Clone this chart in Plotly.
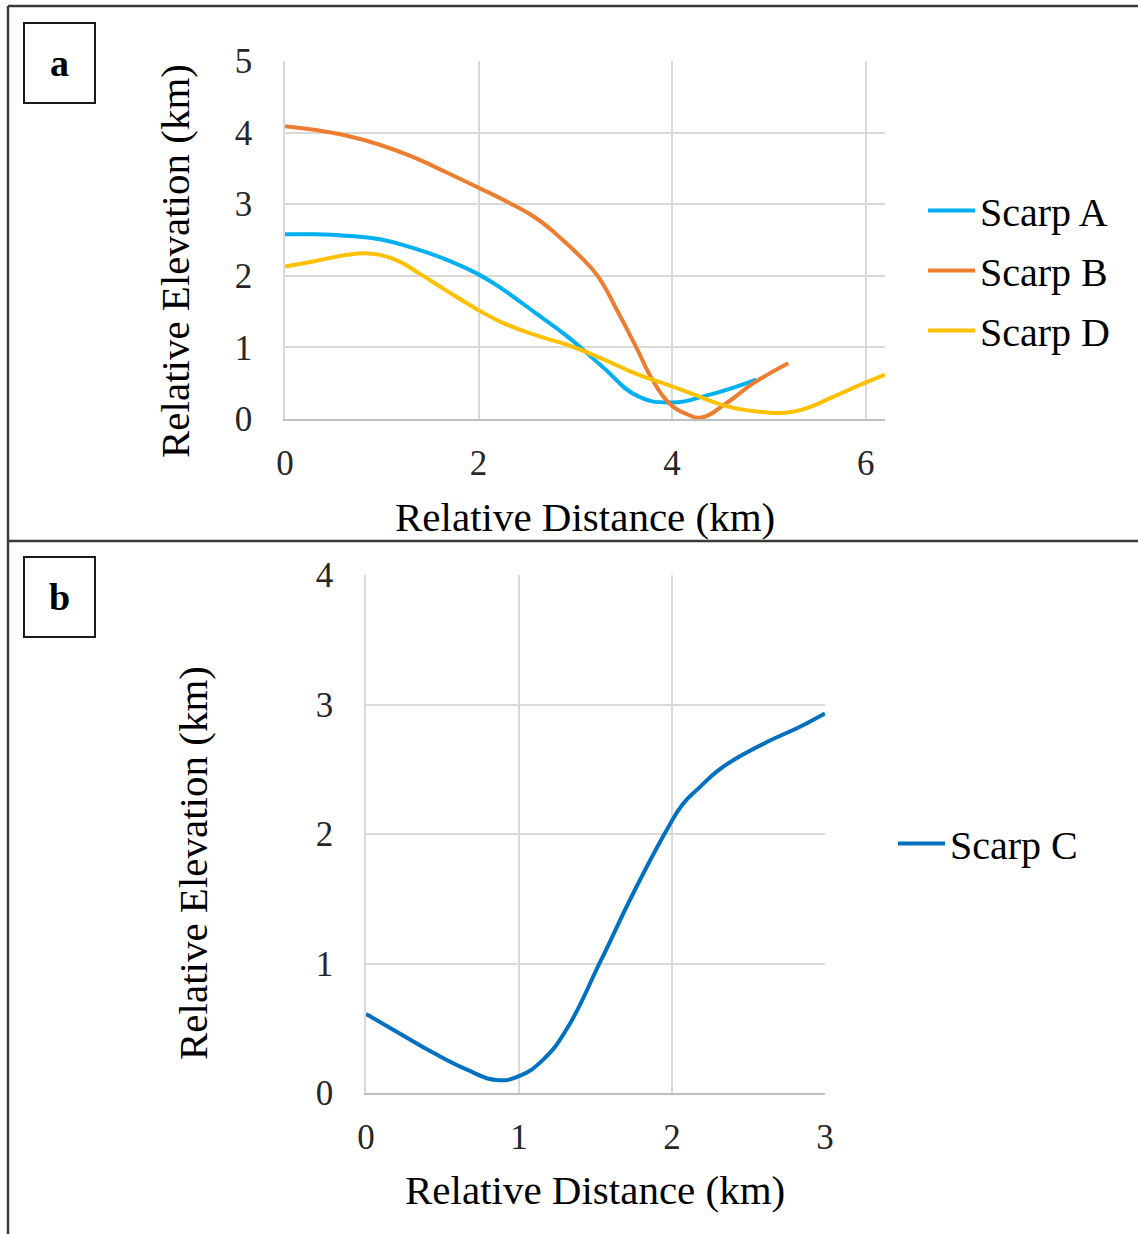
import plotly.graph_objects as go

W, H = 1138, 1234

# ---- data ----
scarp_a_x = [0, 0.3, 0.63, 0.98, 1.32, 1.66, 2.0, 2.24, 2.59, 2.93, 3.28, 3.63, 3.97, 4.39, 4.87]
scarp_a_y = [2.58, 2.58, 2.56, 2.51, 2.39, 2.23, 2.02, 1.82, 1.48, 1.14, 0.73, 0.33, 0.23, 0.34, 0.55]

scarp_b_x = [0, 0.3, 0.63, 0.98, 1.32, 1.66, 2.0, 2.3, 2.6, 2.87, 3.05, 3.23, 3.45, 3.63, 3.8, 3.97, 4.15, 4.3, 4.56, 4.84, 5.2]
scarp_b_y = [4.09, 4.04, 3.96, 3.83, 3.66, 3.45, 3.23, 3.03, 2.80, 2.50, 2.27, 2.0, 1.47, 1.0, 0.54, 0.22, 0.07, 0.02, 0.22, 0.5, 0.78]

scarp_d_x = [0, 0.29, 0.63, 0.87, 1.15, 1.39, 1.66, 2.0, 2.24, 2.59, 2.93, 3.28, 3.63, 3.97, 4.21, 4.56, 4.91, 5.1, 5.25, 5.43, 5.6, 5.95, 6.2]
scarp_d_y = [2.13, 2.2, 2.29, 2.31, 2.22, 2.03, 1.80, 1.52, 1.35, 1.17, 1.03, 0.84, 0.63, 0.47, 0.35, 0.18, 0.10, 0.085, 0.10, 0.17, 0.27, 0.48, 0.62]

scarp_c_x = [0, 0.22, 0.44, 0.66, 0.85, 1.0, 1.16, 1.31, 1.53, 1.75, 1.97, 2.07, 2.18, 2.29, 2.4, 2.62, 2.84, 3.0]
scarp_c_y = [0.61, 0.46, 0.31, 0.18, 0.10, 0.13, 0.26, 0.49, 1.01, 1.55, 2.04, 2.23, 2.36, 2.48, 2.57, 2.71, 2.83, 2.93]

xticks_a = [0, 2, 4, 6]
yticks_a = [0, 1, 2, 3, 4, 5]
xticks_b = [0, 1, 2, 3]
yticks_b = [0, 1, 2, 3, 4]

x_title = "Relative Distance (km)"
y_title = "Relative Elevation (km)"

# ---- styles ----
FONT = "Liberation Serif, Times New Roman, serif"
GRID = "#D9D9D9"
TICKC = "#262626"
LW = 4
SM = 1.3


def px(x):
    return x / W


def py(y):
    return 1 - y / H


fig = go.Figure()

fig.add_trace(go.Scatter(x=scarp_a_x, y=scarp_a_y, name="Scarp A", mode="lines",
                         line=dict(color="#00B0F0", width=LW, shape="spline", smoothing=SM),
                         xaxis="x", yaxis="y", legend="legend", legendgroup="A"))
fig.add_trace(go.Scatter(x=scarp_b_x, y=scarp_b_y, name="Scarp B", mode="lines",
                         line=dict(color="#ED7D31", width=LW, shape="spline", smoothing=SM),
                         xaxis="x", yaxis="y", legend="legend", legendgroup="B"))
fig.add_trace(go.Scatter(x=scarp_d_x, y=scarp_d_y, name="Scarp D", mode="lines",
                         line=dict(color="#FFC000", width=LW, shape="spline", smoothing=SM),
                         xaxis="x", yaxis="y", legend="legend", legendgroup="D"))
fig.add_trace(go.Scatter(x=scarp_c_x, y=scarp_c_y, name="Scarp C", mode="lines",
                         line=dict(color="#0070C0", width=LW, shape="spline", smoothing=SM),
                         xaxis="x2", yaxis="y2", legend="legend2", legendgroup="C"))

tickfont = dict(family=FONT, size=35, color=TICKC)

common_x = dict(showgrid=True, gridcolor=GRID, gridwidth=1.5, zeroline=False,
                showline=True, linecolor="#BFBFBF", linewidth=1.5,
                ticks="", tickfont=tickfont, ticklabelstandoff=12, fixedrange=True)
common_y = dict(showgrid=True, gridcolor=GRID, gridwidth=1.5, zeroline=False,
                showline=True, linecolor=GRID, linewidth=1.5,
                ticks="", tickfont=tickfont, fixedrange=True)

fig.update_layout(
    width=W, height=H,
    margin=dict(l=0, r=0, t=0, b=0, pad=0, autoexpand=False),
    paper_bgcolor="white", plot_bgcolor="white",
    font=dict(family=FONT, color="#000000"),
    xaxis=dict(domain=[px(285), px(885)], range=[0, 6.2], tickvals=xticks_a,
               anchor="y", **common_x),
    yaxis=dict(domain=[py(419), py(61)], range=[0, 5], tickvals=yticks_a,
               anchor="x", ticklabelstandoff=24, **common_y),
    xaxis2=dict(domain=[px(366), px(825)], range=[0, 3], tickvals=xticks_b,
                anchor="y2", **common_x),
    yaxis2=dict(domain=[py(1093), py(575)], range=[0, 4], tickvals=yticks_b,
                anchor="x2", ticklabelstandoff=24, **common_y),
    legend=dict(x=px(923), y=py(178), xanchor="left", yanchor="top",
                font=dict(family=FONT, size=40, color="#000000"),
                itemwidth=47, bgcolor="rgba(0,0,0,0)", borderwidth=0,
                tracegroupgap=5),
    legend2=dict(x=px(893), y=py(811), xanchor="left", yanchor="top",
                 font=dict(family=FONT, size=40, color="#000000"),
                 itemwidth=47, bgcolor="rgba(0,0,0,0)", borderwidth=0),
    showlegend=True,
)

# axis titles
ann = []
ann.append(dict(text=x_title, x=px(585), y=py(517), xref="paper", yref="paper",
                showarrow=False, xanchor="center", yanchor="middle",
                font=dict(family=FONT, size=41, color="#000000")))
ann.append(dict(text=y_title, x=px(175), y=py(261), xref="paper", yref="paper",
                showarrow=False, xanchor="center", yanchor="middle", textangle=-90,
                font=dict(family=FONT, size=41, color="#000000")))
ann.append(dict(text=x_title, x=px(595), y=py(1190), xref="paper", yref="paper",
                showarrow=False, xanchor="center", yanchor="middle",
                font=dict(family=FONT, size=41, color="#000000")))
ann.append(dict(text=y_title, x=px(193), y=py(863), xref="paper", yref="paper",
                showarrow=False, xanchor="center", yanchor="middle", textangle=-90,
                font=dict(family=FONT, size=41, color="#000000")))
# panel labels
ann.append(dict(text="<b>a</b>", x=px(59.5), y=py(63), xref="paper", yref="paper",
                showarrow=False, xanchor="center", yanchor="middle",
                font=dict(family=FONT, size=38, color="#000000")))
ann.append(dict(text="<b>b</b>", x=px(59.5), y=py(597), xref="paper", yref="paper",
                showarrow=False, xanchor="center", yanchor="middle",
                font=dict(family=FONT, size=38, color="#000000")))
fig.update_layout(annotations=ann)

# frame lines and label boxes
FR = "#3A3A3A"
shapes = [
    dict(type="line", xref="paper", yref="paper", x0=px(8), x1=px(8), y0=0, y1=py(6),
         line=dict(color=FR, width=2.5)),
    dict(type="line", xref="paper", yref="paper", x0=px(8), x1=1, y0=py(6), y1=py(6),
         line=dict(color=FR, width=2.5)),
    dict(type="line", xref="paper", yref="paper", x0=px(8), x1=1, y0=py(541), y1=py(541),
         line=dict(color=FR, width=2.5)),
    dict(type="rect", xref="paper", yref="paper", x0=px(24), x1=px(95), y0=py(103), y1=py(23),
         line=dict(color="#1A1A1A", width=2)),
    dict(type="rect", xref="paper", yref="paper", x0=px(24), x1=px(95), y0=py(637), y1=py(557),
         line=dict(color="#1A1A1A", width=2)),
]
fig.update_layout(shapes=shapes)

fig.write_html("out.html", config={"displayModeBar": False},
               post_script="document.body.style.margin='0';document.body.style.overflow='hidden';")
